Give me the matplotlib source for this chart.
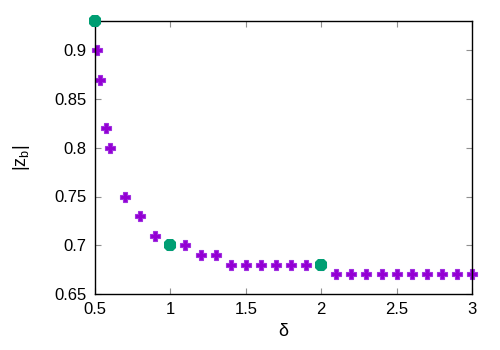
import matplotlib
matplotlib.use("Agg")
import matplotlib.pyplot as plt
from matplotlib.ticker import FuncFormatter

plt.rcParams['font.family'] = ['Liberation Sans', 'DejaVu Sans']
plt.rcParams['mathtext.fontset'] = 'custom'
plt.rcParams['mathtext.rm'] = 'Liberation Sans'

# |z_b| vs delta
delta = [0.5, 0.51, 0.53, 0.57, 0.6, 0.7, 0.8, 0.9, 1.0, 1.1, 1.2, 1.3,
         1.4, 1.5, 1.6, 1.7, 1.8, 1.9, 2.0, 2.1, 2.2, 2.3, 2.4, 2.5,
         2.6, 2.7, 2.8, 2.9, 3.0]
zb = [0.93, 0.90, 0.87, 0.82, 0.80, 0.75, 0.73, 0.71, 0.70, 0.70, 0.69, 0.69,
      0.68, 0.68, 0.68, 0.68, 0.68, 0.68, 0.68, 0.67, 0.67, 0.67, 0.67, 0.67,
      0.67, 0.67, 0.67, 0.67, 0.67]

# highlighted points
delta_hi = [0.5, 1.0, 2.0]
zb_hi = [0.93, 0.70, 0.68]

xticks = [0.5, 1, 1.5, 2, 2.5, 3]
yticks = [0.65, 0.7, 0.75, 0.8, 0.85, 0.9]

fig = plt.figure(figsize=(5, 3.5), dpi=100)
ax = fig.add_axes([0.19, 0.16, 0.754, 0.78])

ax.plot(delta, zb, linestyle='none', marker='P', markersize=7.5,
        color='#9400d3', markeredgewidth=0.8, markeredgecolor='#a030e0',
        clip_on=False)
ax.plot(delta_hi, zb_hi, linestyle='none', marker='8', markersize=10,
        color='#009e73', markeredgewidth=0, clip_on=False, zorder=3)

ax.set_xlim(0.5, 3)
ax.set_ylim(0.65, 0.93)
ax.set_xticks(xticks)
ax.set_yticks(yticks)
fmt = FuncFormatter(lambda v, p: ('%g' % v))
ax.xaxis.set_major_formatter(fmt)
ax.yaxis.set_major_formatter(fmt)
ax.tick_params(direction='in', top=True, right=True, length=4,
               labelsize=12, color='#909090', pad=6)
for s in ax.spines.values():
    s.set_linewidth(1)
    s.set_color('black')

ax.set_xlabel('δ', fontsize=13, labelpad=4)
ax.set_ylabel(r'|z$_\mathrm{b}$|', fontsize=13, labelpad=16)

fig.savefig('out.png', dpi=100)
